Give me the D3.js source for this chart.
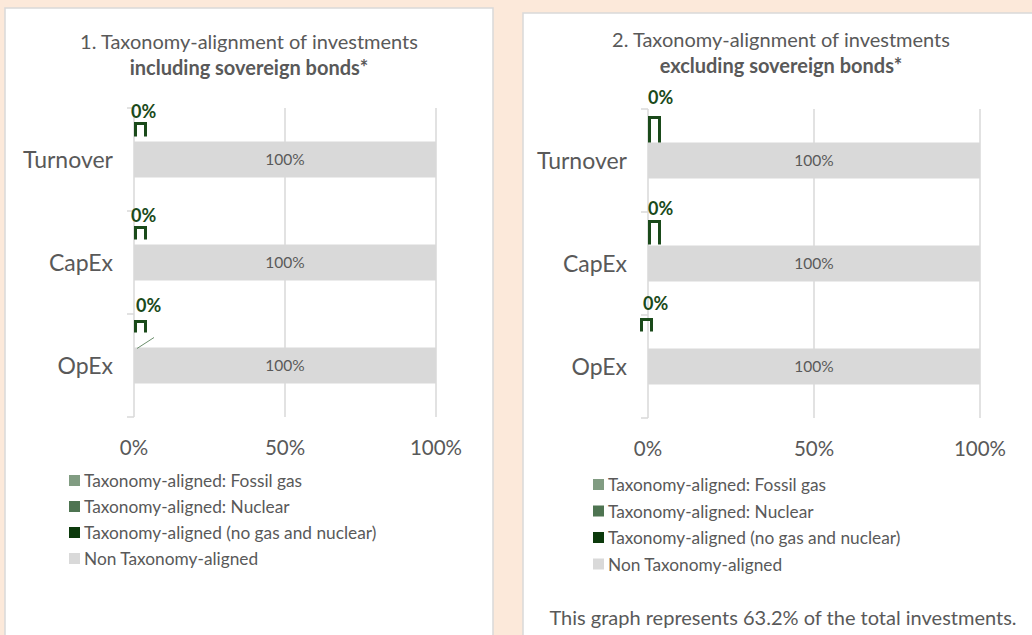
<!DOCTYPE html>
<html>
<head>
<meta charset="utf-8">
<script src="https://cdn.jsdelivr.net/npm/d3@7"></script>
<style>
  body { margin: 0; background: #fce9da; }
  svg { display: block; font-family: Lato, "Open Sans", sans-serif; }
</style>
</head>
<body>
<div id="chart"></div>
<script>
const width = 1032, height = 635;

// data
const categories = ["Turnover", "CapEx", "OpEx"];
const seriesNames = ["Taxonomy-aligned: Fossil gas", "Taxonomy-aligned: Nuclear",
  "Taxonomy-aligned (no gas and nuclear)", "Non Taxonomy-aligned"];
const seriesColors = ["#819c82", "#4e7451", "#0c3a0c", "#d9d9d9"];
const inclFossil = [0, 0, 0];
const inclNuclear = [0, 0, 0];
const inclAligned = [0, 0, 0];
const inclNon = [100, 100, 100];
const exclFossil = [0, 0, 0];
const exclNuclear = [0, 0, 0];
const exclAligned = [0, 0, 0];
const exclNon = [100, 100, 100];
const xTicks = [0, 50, 100];
const titles1 = ["1. Taxonomy-alignment of investments", "including sovereign bonds*"];
const titles2 = ["2. Taxonomy-alignment of investments", "excluding sovereign bonds*"];
const footnote = "This graph represents 63.2% of the total investments.";

const fmt = v => d3.format(".0f")(v) + "%";
const grey = "#595959";

const svg = d3.select("#chart").append("svg")
  .attr("width", width).attr("height", height);

function panel(cfg) {
  const g = svg.append("g");
  // card
  g.append("rect")
    .attr("x", cfg.box[0]).attr("y", cfg.box[1])
    .attr("width", cfg.box[2]).attr("height", cfg.box[3])
    .attr("fill", "#fff").attr("stroke", "#d9d9d9").attr("stroke-width", 1.5);

  // title
  const t = g.append("text").attr("text-anchor", "middle").attr("fill", grey).attr("font-size", 20);
  t.append("tspan").attr("x", cfg.titleX).attr("y", cfg.titleY).text(cfg.titles[0]);
  t.append("tspan").attr("x", cfg.titleX).attr("y", cfg.titleY + 26).attr("font-weight", "bold").text(cfg.titles[1]);

  const x = d3.scaleLinear().domain([0, 100]).range(cfg.xr);
  const y = d3.scaleBand().domain(categories).range(cfg.yr);
  const barH = 36;

  // gridlines
  g.append("g").selectAll("line").data(xTicks).join("line")
    .attr("x1", d => x(d)).attr("x2", d => x(d))
    .attr("y1", cfg.yr[0]).attr("y2", cfg.yr[1])
    .attr("stroke", "#d9d9d9").attr("stroke-width", 1.5);

  // category tick marks
  g.append("g").selectAll("line").data(d3.range(categories.length + 1)).join("line")
    .attr("x1", x(0) - 7).attr("x2", x(0))
    .attr("y1", i => cfg.yr[0] + i * y.step()).attr("y2", i => cfg.yr[0] + i * y.step())
    .attr("stroke", "#d9d9d9").attr("stroke-width", 1.5);

  // x axis labels
  g.append("g").selectAll("text").data(xTicks).join("text")
    .attr("x", d => x(d)).attr("y", cfg.yr[1] + 38)
    .attr("text-anchor", "middle").attr("fill", grey).attr("font-size", 20.5)
    .text(d => d + "%");

  // category labels
  g.append("g").selectAll("text").data(categories).join("text")
    .attr("x", x(0) - 21).attr("y", d => y(d) + y.bandwidth() / 2 + 8)
    .attr("text-anchor", "end").attr("fill", grey).attr("font-size", 23)
    .text(d => d);

  // stacked bars
  const rows = categories.map((c, i) => {
    const r = { cat: c };
    cfg.series.forEach((s, j) => r[seriesNames[j]] = s[i]);
    return r;
  });
  const stacked = d3.stack().keys(seriesNames)(rows);
  const barY = d => y(d.data.cat) + y.bandwidth() / 2 - barH / 2;
  g.append("g").selectAll("g").data(stacked).join("g")
    .attr("fill", (d, i) => seriesColors[i])
    .selectAll("rect").data(d => d).join("rect")
    .attr("x", d => x(d[0])).attr("width", d => x(d[1]) - x(d[0]))
    .attr("y", barY).attr("height", barH);

  // non-aligned labels
  const non = stacked[3];
  g.append("g").selectAll("text").data(non).join("text")
    .attr("x", d => (x(d[0]) + x(d[1])) / 2).attr("y", d => barY(d) + barH / 2 + 5.5)
    .attr("text-anchor", "middle").attr("fill", grey).attr("font-size", 15.5)
    .text(d => fmt(d[1] - d[0]));

  // aligned labels (tiny callouts above zero bars)
  const al = stacked[2];
  al.forEach((d, i) => {
    const n = cfg.nudge[i];
    const bx = x(d[0]) + n.dx, bw = Math.max(x(d[1]) - x(d[0]), 13);
    const bottom = barY(d) - n.gap, top = bottom - n.h;
    g.append("path")
      .attr("d", `M${bx + 1.5},${bottom} V${top} H${bx + bw - 1.5} V${bottom}`)
      .attr("fill", "none").attr("stroke", "#1a4a1a").attr("stroke-width", 3);
    g.append("text")
      .attr("x", bx + n.ldx).attr("y", top - n.ldy)
      .attr("fill", "#1a4a1a").attr("font-weight", "bold").attr("font-size", 18)
      .text(fmt(d[1] - d[0]));
    if (n.leader) {
      g.append("line")
        .attr("x1", x(d[0]) + 3).attr("y1", barY(d) + 1)
        .attr("x2", x(d[0]) + 20).attr("y2", barY(d) - 10)
        .attr("stroke", "#6c8f6d").attr("stroke-width", 1);
    }
  });

  // legend
  const lg = g.append("g").selectAll("g").data(seriesNames).join("g")
    .attr("transform", (d, i) => `translate(${cfg.legend[0]},${cfg.legend[1] + i * cfg.legend[2]})`);
  lg.append("rect").attr("x", 0).attr("y", -6).attr("width", 11).attr("height", 11)
    .attr("fill", (d, i) => seriesColors[i]);
  lg.append("text").attr("x", 15).attr("y", 6)
    .attr("fill", grey).attr("font-size", 17.3).text(d => d);
}

panel({
  box: [5, 8, 488, 640], titleX: 249, titleY: 49, titles: titles1,
  xr: [134, 436], yr: [108, 417],
  series: [inclFossil, inclNuclear, inclAligned, inclNon],
  nudge: [
    { dx: 0, gap: 5, h: 13, ldx: -3, ldy: 6 },
    { dx: 0, gap: 5, h: 12, ldx: -3, ldy: 6 },
    { dx: 0, gap: 15, h: 11, ldx: 2, ldy: 10, leader: true }
  ],
  legend: [69, 481, 26]
});

panel({
  box: [523, 13, 520, 640], titleX: 781, titleY: 47, titles: titles2,
  xr: [648, 980], yr: [109, 418],
  series: [exclFossil, exclNuclear, exclAligned, exclNon],
  nudge: [
    { dx: 0, gap: 0, h: 25, ldx: 0, ldy: 14 },
    { dx: 0, gap: 1, h: 23, ldx: 0, ldy: 7 },
    { dx: -8, gap: 17, h: 12, ldx: 3, ldy: 10 }
  ],
  legend: [593, 485, 26.5]
});

svg.append("text").attr("x", 783).attr("y", 625)
  .attr("text-anchor", "middle").attr("fill", grey).attr("font-size", 20)
  .text(footnote);
</script>
</body>
</html>
